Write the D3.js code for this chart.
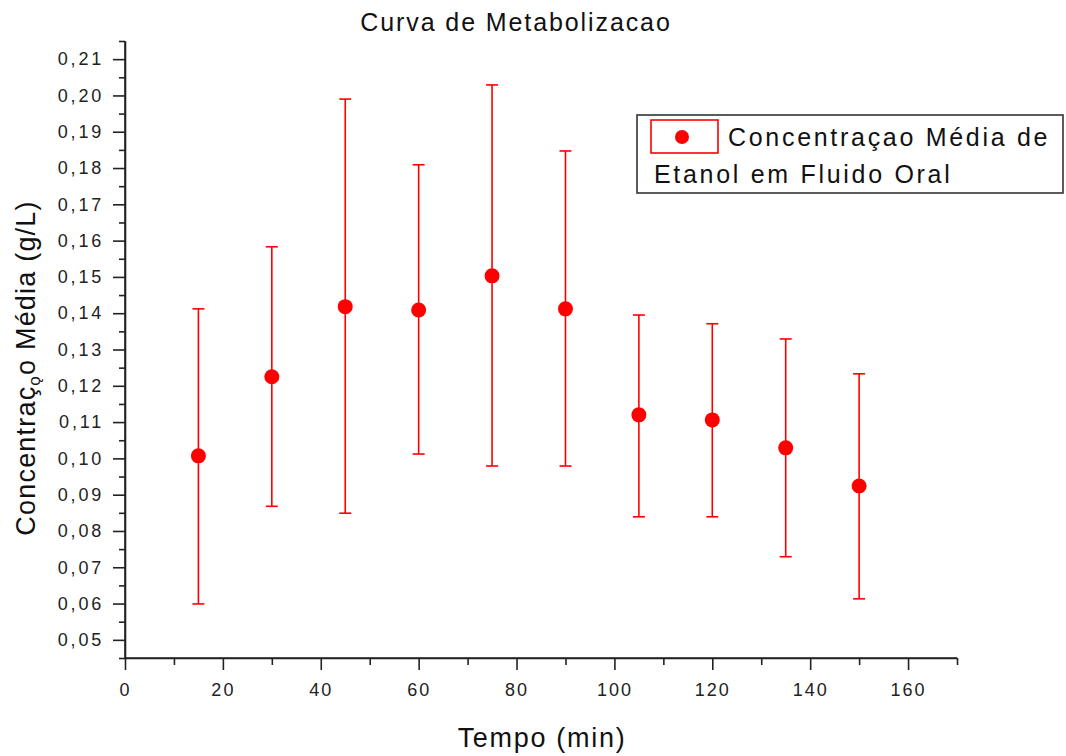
<!DOCTYPE html>
<html>
<head>
<meta charset="utf-8">
<script src="https://cdn.jsdelivr.net/npm/d3@7"></script>
<style>
  body { margin: 0; background: #fff; }
  svg { display: block; font-family: "Liberation Sans", Arial, sans-serif; }
  .axis path, .axis line { stroke: #222; stroke-width: 1.6; }
  .axis text { fill: #222; }
</style>
</head>
<body>
<div id="chart"></div>
<script>
// --- data ---
const times = [15, 30, 45, 60, 75, 90, 105, 120, 135, 150];
const means = [0.1007, 0.1225, 0.1418, 0.1409, 0.1503, 0.1412, 0.1120, 0.1106, 0.1029, 0.0924];
const upper = [0.1412, 0.1583, 0.1990, 0.1809, 0.2029, 0.1847, 0.1395, 0.1371, 0.1329, 0.1233];
const lower = [0.0599, 0.0868, 0.0849, 0.1012, 0.0979, 0.0979, 0.0839, 0.0839, 0.0729, 0.0613];
const xTicks = [0, 20, 40, 60, 80, 100, 120, 140, 160];
const yTicks = [0.05, 0.06, 0.07, 0.08, 0.09, 0.10, 0.11, 0.12, 0.13, 0.14, 0.15, 0.16, 0.17, 0.18, 0.19, 0.20, 0.21];

const width = 1066, height = 756;
const red = "#ff0000";

const svg = d3.select("#chart").append("svg")
    .attr("width", width)
    .attr("height", height);

const x = d3.scaleLinear().domain([0, 170]).range([125, 957]);
const y = d3.scaleLinear().domain([0.045, 0.215]).range([658, 41]);

// minor ticks first (shorter), then major ticks
const xMinor = d3.range(10, 171, 20);
const yMinor = d3.range(0.045, 0.2151, 0.01);

svg.append("g")
    .attr("class", "axis")
    .attr("transform", "translate(0,658)")
    .call(d3.axisBottom(x).tickValues(xMinor).tickSize(7).tickSizeOuter(0).tickFormat(""));

svg.append("g")
    .attr("class", "axis")
    .attr("transform", "translate(125,0)")
    .call(d3.axisLeft(y).tickValues(yMinor).tickSize(6).tickSizeOuter(0).tickFormat(""));

const gx = svg.append("g")
    .attr("class", "axis")
    .attr("transform", "translate(0,658)")
    .call(d3.axisBottom(x).tickValues(xTicks).tickSize(12).tickSizeOuter(0).tickPadding(13));
gx.selectAll("text")
    .style("font-size", "18px")
    .style("letter-spacing", "2px");
gx.select(".domain").remove();

const gy = svg.append("g")
    .attr("class", "axis")
    .attr("transform", "translate(125,0)")
    .call(d3.axisLeft(y).tickValues(yTicks).tickSize(12).tickSizeOuter(0).tickPadding(9)
        .tickFormat(d => d3.format(".2f")(d).replace(".", ",")));
gy.selectAll("text")
    .style("font-size", "18px")
    .style("letter-spacing", "2.8px");
gy.select(".domain").remove();

// axis lines
svg.append("line").attr("x1", x(0)).attr("x2", x(170)).attr("y1", 658).attr("y2", 658)
    .attr("stroke", "#222").attr("stroke-width", 1.6);
svg.append("line").attr("x1", 125).attr("x2", 125).attr("y1", y(0.045)).attr("y2", y(0.215))
    .attr("stroke", "#222").attr("stroke-width", 1.6);

// error bars
const pts = times.map((t, i) => ({ t, m: means[i], hi: upper[i], lo: lower[i] }));
const eb = svg.append("g").attr("stroke", red).attr("stroke-width", 1.6);
eb.selectAll("line.v").data(pts).join("line")
    .attr("x1", d => x(d.t)).attr("x2", d => x(d.t))
    .attr("y1", d => y(d.hi)).attr("y2", d => y(d.lo));
eb.selectAll("line.hi").data(pts).join("line")
    .attr("x1", d => x(d.t) - 6).attr("x2", d => x(d.t) + 6)
    .attr("y1", d => y(d.hi)).attr("y2", d => y(d.hi));
eb.selectAll("line.lo").data(pts).join("line")
    .attr("x1", d => x(d.t) - 6).attr("x2", d => x(d.t) + 6)
    .attr("y1", d => y(d.lo)).attr("y2", d => y(d.lo));

svg.append("g").selectAll("circle").data(pts).join("circle")
    .attr("cx", d => x(d.t)).attr("cy", d => y(d.m))
    .attr("r", 7.5).attr("fill", red);

// title and axis titles
svg.append("text")
    .attr("x", 516).attr("y", 31)
    .attr("text-anchor", "middle")
    .style("font-size", "25px").style("letter-spacing", "1.9px").attr("fill", "#111")
    .text("Curva de Metabolizacao");

svg.append("text")
    .attr("x", 542).attr("y", 747)
    .attr("text-anchor", "middle")
    .style("font-size", "27px").style("letter-spacing", "1.7px").attr("fill", "#111")
    .text("Tempo (min)");

const yt = svg.append("text")
    .attr("transform", "translate(35,368) rotate(-90)")
    .attr("text-anchor", "middle")
    .style("font-size", "27px").style("letter-spacing", "1.2px").attr("fill", "#111");
yt.append("tspan").text("Concentraç");
yt.append("tspan").attr("dy", 5).style("font-size", "17px").text("ǫ");
yt.append("tspan").attr("dy", -5).text("o Média (g/L)");

// legend
const lg = svg.append("g");
lg.append("rect").attr("x", 637).attr("y", 115).attr("width", 426).attr("height", 78)
    .attr("fill", "#fff").attr("stroke", "#333").attr("stroke-width", 1.6);
lg.append("rect").attr("x", 651).attr("y", 120).attr("width", 67).attr("height", 33)
    .attr("fill", "none").attr("stroke", red).attr("stroke-width", 1.6);
lg.append("circle").attr("cx", 682).attr("cy", 137).attr("r", 7).attr("fill", red);
lg.append("text").attr("x", 728).attr("y", 146)
    .style("font-size", "25px").style("letter-spacing", "2.7px").attr("fill", "#111")
    .text("Concentraçao Média de");
lg.append("text").attr("x", 654).attr("y", 183)
    .style("font-size", "25px").style("letter-spacing", "2.7px").attr("fill", "#111")
    .text("Etanol em Fluido Oral");
</script>
</body>
</html>
